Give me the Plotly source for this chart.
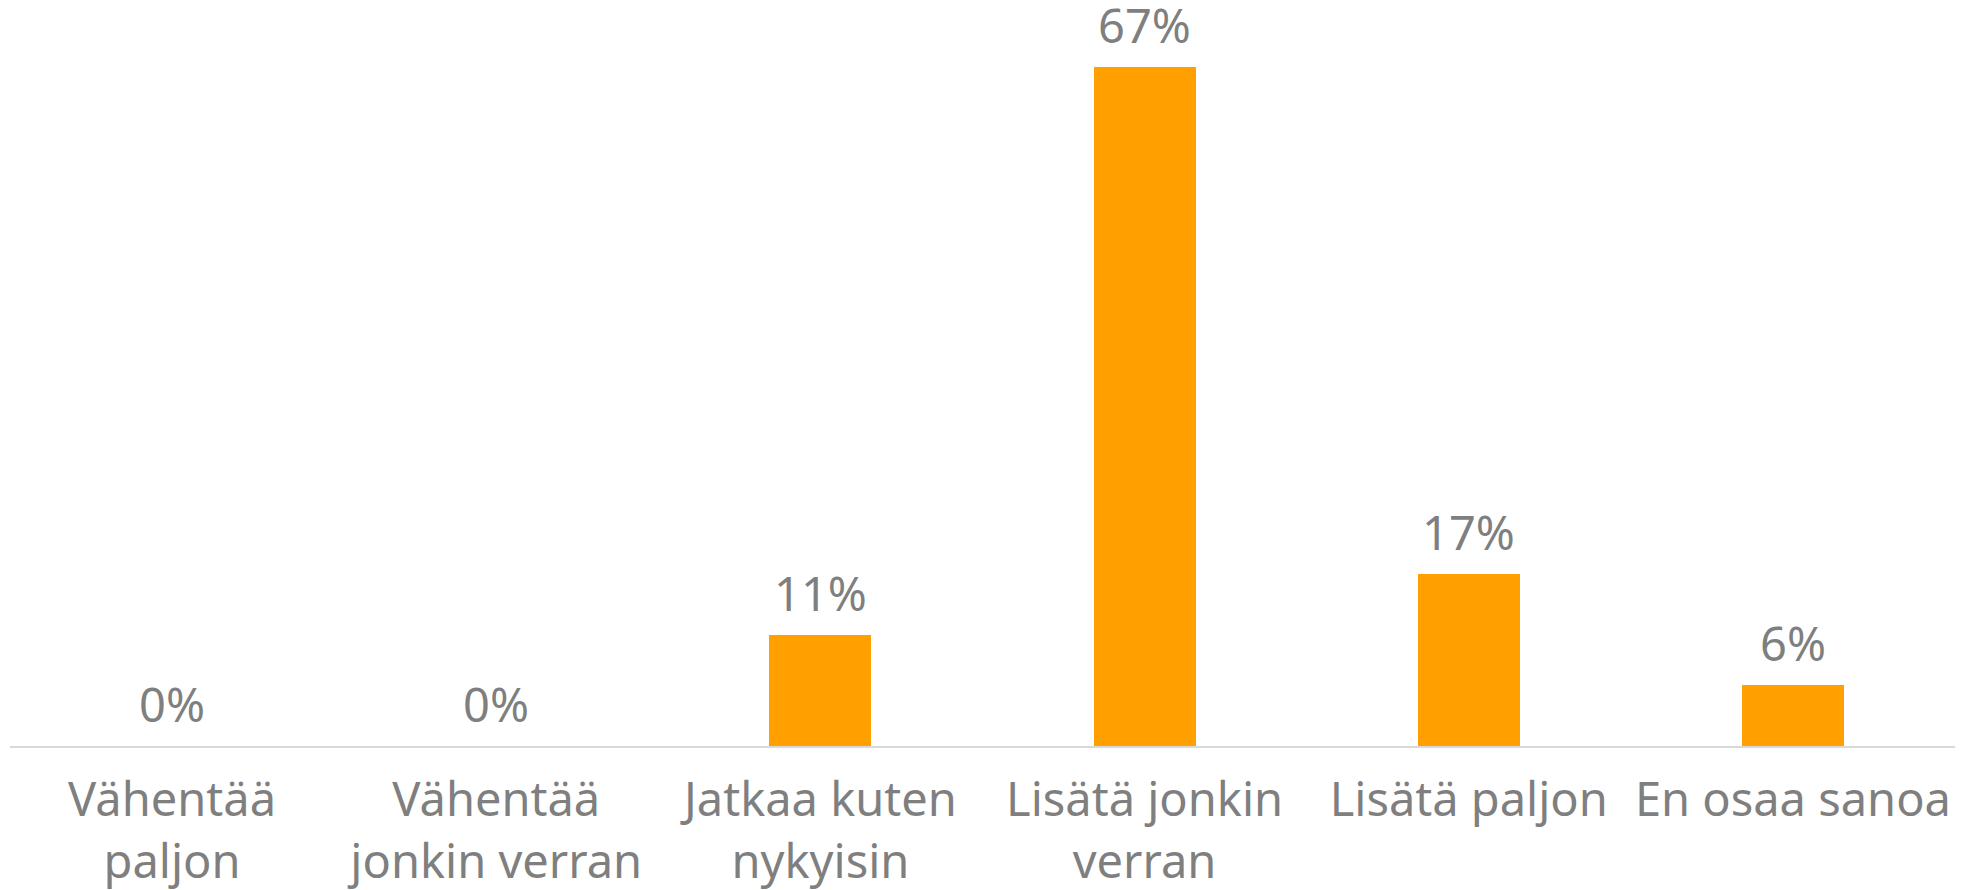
import plotly.graph_objects as go

categories = ["Vähentää<br>paljon", "Vähentää<br>jonkin verran", "Jatkaa kuten<br>nykyisin",
              "Lisätä jonkin<br>verran", "Lisätä paljon", "En osaa sanoa"]
values = [0, 0, 11, 67, 17, 6]
labels = ["0%", "0%", "11%", "67%", "17%", "6%"]

BAR = "#FF9F00"
TXT = "#7F7F7F"
FONT = "Noto Sans"
FS = 47

fig = go.Figure(go.Bar(x=categories, y=values, marker=dict(color=BAR, line=dict(width=0)),
                       width=0.315, hoverinfo="skip"))

for c, v, t in zip(categories, values, labels):
    fig.add_annotation(x=c, y=v, text=t, showarrow=False, yanchor="bottom", yshift=8,
                       font=dict(family=FONT, size=FS, color=TXT))

# page body has an 8px margin: figure is sized/margined to compensate
fig.update_layout(
    width=1961, height=882,
    margin=dict(l=2, r=14, t=29, b=144, autoexpand=False),
    paper_bgcolor="white", plot_bgcolor="white",
    showlegend=False,
    bargap=0,
)
fig.update_xaxes(showline=True, linecolor="#D9D9D9", linewidth=2, ticks="",
                 tickfont=dict(family=FONT, size=FS, color=TXT), showgrid=False,
                 ticklabelstandoff=12, automargin=False)
fig.update_yaxes(range=[0, 70], visible=False, showgrid=False, zeroline=False, automargin=False)

fig.write_html("out.html")
